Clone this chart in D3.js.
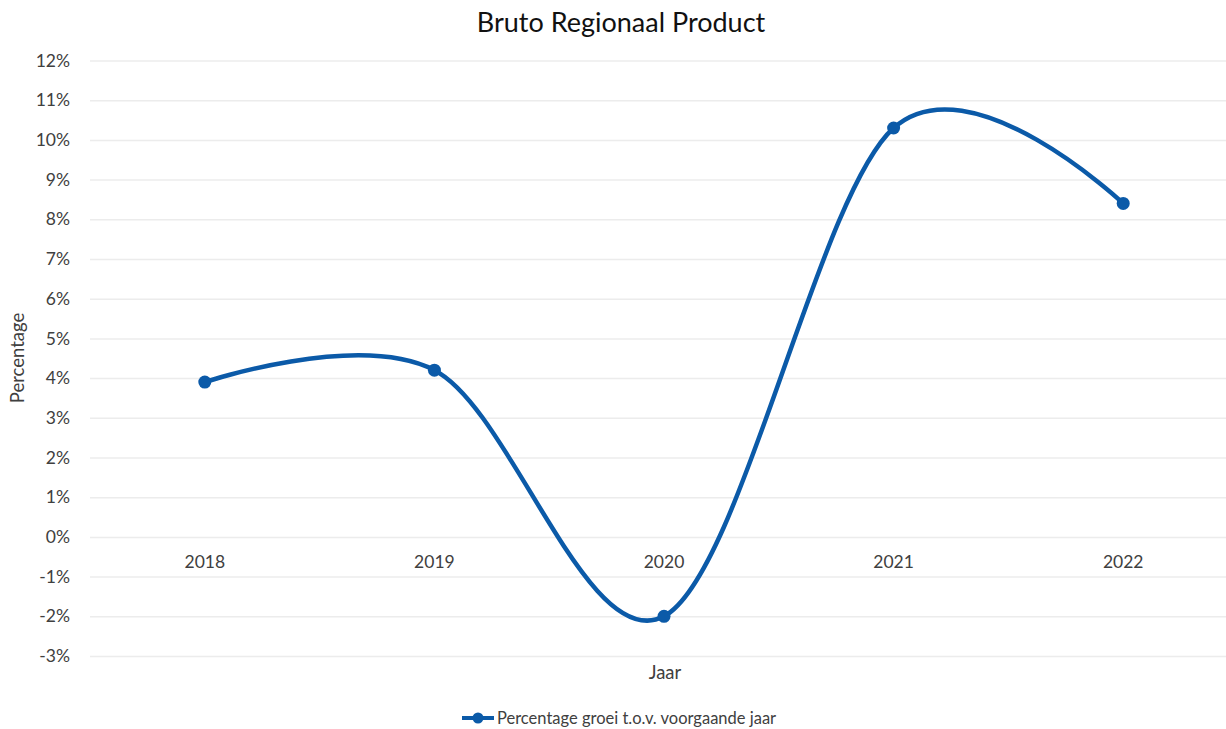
<!DOCTYPE html>
<head>
<meta charset="utf-8">
<script src="https://d3js.org/d3.v7.min.js"></script>
<style>
  body { margin: 0; background: #fff; }
  text { font-family: Lato, "Noto Sans", sans-serif; }
</style>
</head>
<body>
<div id="my_dataviz"></div>
<script>
    // data
    var years = ["2018", "2019", "2020", "2021", "2022"];
    var growth = [3.9, 4.2, -2.0, 10.3, 8.4];
    var yTicks = [-3, -2, -1, 0, 1, 2, 3, 4, 5, 6, 7, 8, 9, 10, 11, 12];
    var seriesName = "Percentage groei t.o.v. voorgaande jaar";

    var W = 1226, H = 729;
    var lineColor = "#0b5aa8";

    var svg = d3.select("#my_dataviz")
      .append("svg")
        .attr("width", W)
        .attr("height", H);

    var x = d3.scaleBand()
      .domain(years)
      .range([90, 1238]);

    var y = d3.scaleLinear()
      .domain([-3, 12])
      .range([656, 60.5]);

    // gridlines
    svg.append("g")
      .attr("transform", "translate(90,0)")
      .call(d3.axisLeft(y).tickValues(yTicks).tickSize(-1148).tickFormat(""))
      .call(g => g.select(".domain").remove())
      .call(g => g.selectAll(".tick line").attr("stroke", "#ececec").attr("stroke-width", 1.5));

    // y tick labels
    svg.append("g")
      .attr("transform", "translate(73,0)")
      .call(d3.axisLeft(y).tickValues(yTicks).tickSize(0).tickFormat(d => d + "%"))
      .call(g => g.select(".domain").remove())
      .call(g => g.selectAll(".tick text")
            .attr("fill", "#404040")
            .style("font-size", "17.5px"));

    // x labels, sitting just below the 0% line
    svg.append("g")
      .attr("transform", "translate(0," + y(0) + ")")
      .call(d3.axisBottom(x).tickSize(0).tickPadding(19))
      .call(g => g.select(".domain").remove())
      .call(g => g.selectAll(".tick text")
            .attr("fill", "#404040")
            .style("font-size", "17.5px"));

    var data = years.map((d, i) => ({year: d, value: growth[i]}));
    var cx = d => x(d.year) + x.bandwidth() / 2;

    svg.append("path")
      .datum(data)
      .attr("fill", "none")
      .attr("stroke", lineColor)
      .attr("stroke-width", 4.5)
      .attr("stroke-linecap", "round")
      .attr("d", d3.line()
        .curve(d3.curveCardinal.tension(0))
        .x(cx)
        .y(d => y(d.value)));

    svg.append("g").selectAll("circle")
      .data(data)
      .enter()
      .append("circle")
        .attr("cx", cx)
        .attr("cy", d => y(d.value))
        .attr("r", 6.5)
        .attr("fill", lineColor);

    // title and axis titles
    svg.append("text")
      .attr("x", 621).attr("y", 32)
      .attr("text-anchor", "middle")
      .attr("fill", "#111")
      .style("font-size", "27px")
      .text("Bruto Regionaal Product");

    svg.append("text")
      .attr("x", 665).attr("y", 679)
      .attr("text-anchor", "middle")
      .attr("fill", "#404040")
      .style("font-size", "18.5px")
      .text("Jaar");

    svg.append("text")
      .attr("transform", "translate(24,358) rotate(-90)")
      .attr("text-anchor", "middle")
      .attr("fill", "#404040")
      .style("font-size", "18.5px")
      .text("Percentage");

    // legend
    var lg = svg.append("g").attr("transform", "translate(462,718)");
    lg.append("line")
      .attr("x1", 0).attr("x2", 32)
      .attr("stroke", lineColor).attr("stroke-width", 4);
    lg.append("circle")
      .attr("cx", 16).attr("r", 5.5).attr("fill", lineColor);
    lg.append("text")
      .attr("x", 35).attr("y", 5.5)
      .attr("fill", "#404040")
      .style("font-size", "16.5px")
      .text(seriesName);
</script>
</body>
